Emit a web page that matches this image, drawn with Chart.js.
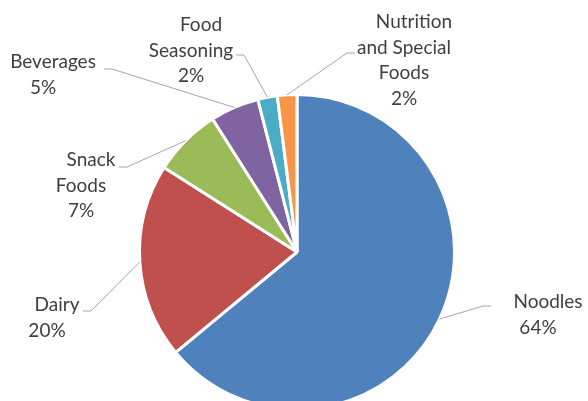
<!DOCTYPE html>
<html>
<head>
<meta charset="utf-8">
<script src="https://cdn.jsdelivr.net/npm/chart.js@4.4.0/dist/chart.umd.min.js"></script>
<style>
  html, body { margin: 0; padding: 0; background: #fff; overflow: hidden; }
  #wrap { position: relative; width: 588px; height: 412px; }
</style>
</head>
<body>
<div id="wrap"><canvas id="myChart"></canvas></div>
<script>
const categories = ["Noodles", "Dairy", ["Snack", "Foods"], "Beverages", ["Food", "Seasoning"], ["Nutrition", "and Special", "Foods"]];
const shares = [64, 20, 7, 5, 2, 2];
const colors = ["#4F81BD", "#C0504D", "#9BBB59", "#8064A2", "#4BACC6", "#F79646"];

// callout layout: leader elbow, stub direction, text block centre (x) and first line (y)
const callouts = [
  { elbow: [483, 306], dir: 1, tx: 538, ty: 302 },
  { elbow: [91, 311], dir: -1, tx: 47, ty: 305 },
  { elbow: [127, 167], dir: -1, tx: 81, ty: 160 },
  { elbow: [112, 69], dir: -1, tx: 43, ty: 62 },
  { elbow: [244, 55], dir: -1, tx: 191, ty: 25 },
  { elbow: [347, 53], dir: 1, tx: 404, ty: 22 },
];
const lineGap = 25.5;
const nameShift = 10;

const ctx = document.getElementById("myChart").getContext("2d");

//Draws the leader lines and the name / percent labels
const calloutPlugin = {
  id: "callouts",
  afterDatasetsDraw(chart) {
    const c = chart.ctx;
    const arcs = chart.getDatasetMeta(0).data;
    const total = shares.reduce((a, b) => a + b, 0);
    c.save();
    arcs.forEach((arc, i) => {
      const co = callouts[i];
      const mid = (arc.startAngle + arc.endAngle) / 2;
      const sx = arc.x + Math.cos(mid) * arc.outerRadius;
      const sy = arc.y + Math.sin(mid) * arc.outerRadius;
      c.strokeStyle = "#a6a6a6";
      c.lineWidth = 1;
      c.beginPath();
      c.moveTo(sx, sy);
      c.lineTo(co.elbow[0], co.elbow[1]);
      c.lineTo(co.elbow[0] + co.dir * 8, co.elbow[1]);
      c.stroke();

      const lines = [].concat(categories[i]);
      lines.push(Math.round((shares[i] / total) * 100) + "%");
      c.fillStyle = "#404040";
      c.font = "19px Lato";
      c.textAlign = "center";
      c.textBaseline = "middle";
      lines.forEach((txt, j) => {
        const x = j === 0 ? co.tx + nameShift : co.tx;
        c.fillText(txt, x, co.ty + j * lineGap);
      });
    });
    c.restore();
  },
};

const myChart = new Chart(ctx, {
  type: "pie",
  data: {
    labels: categories,
    datasets: [
      {
        data: shares,
        backgroundColor: colors,
        borderColor: "#ffffff",
        borderWidth: 3,
      },
    ],
  },
  options: {
    responsive: true,
    maintainAspectRatio: false,
    animation: false,
    events: [],
    layout: {
      padding: { left: 138, right: 132, top: 93, bottom: 1 },
    },
    plugins: {
      legend: { display: false },
      tooltip: { enabled: false },
    },
  },
  plugins: [calloutPlugin],
});
</script>
</body>
</html>
